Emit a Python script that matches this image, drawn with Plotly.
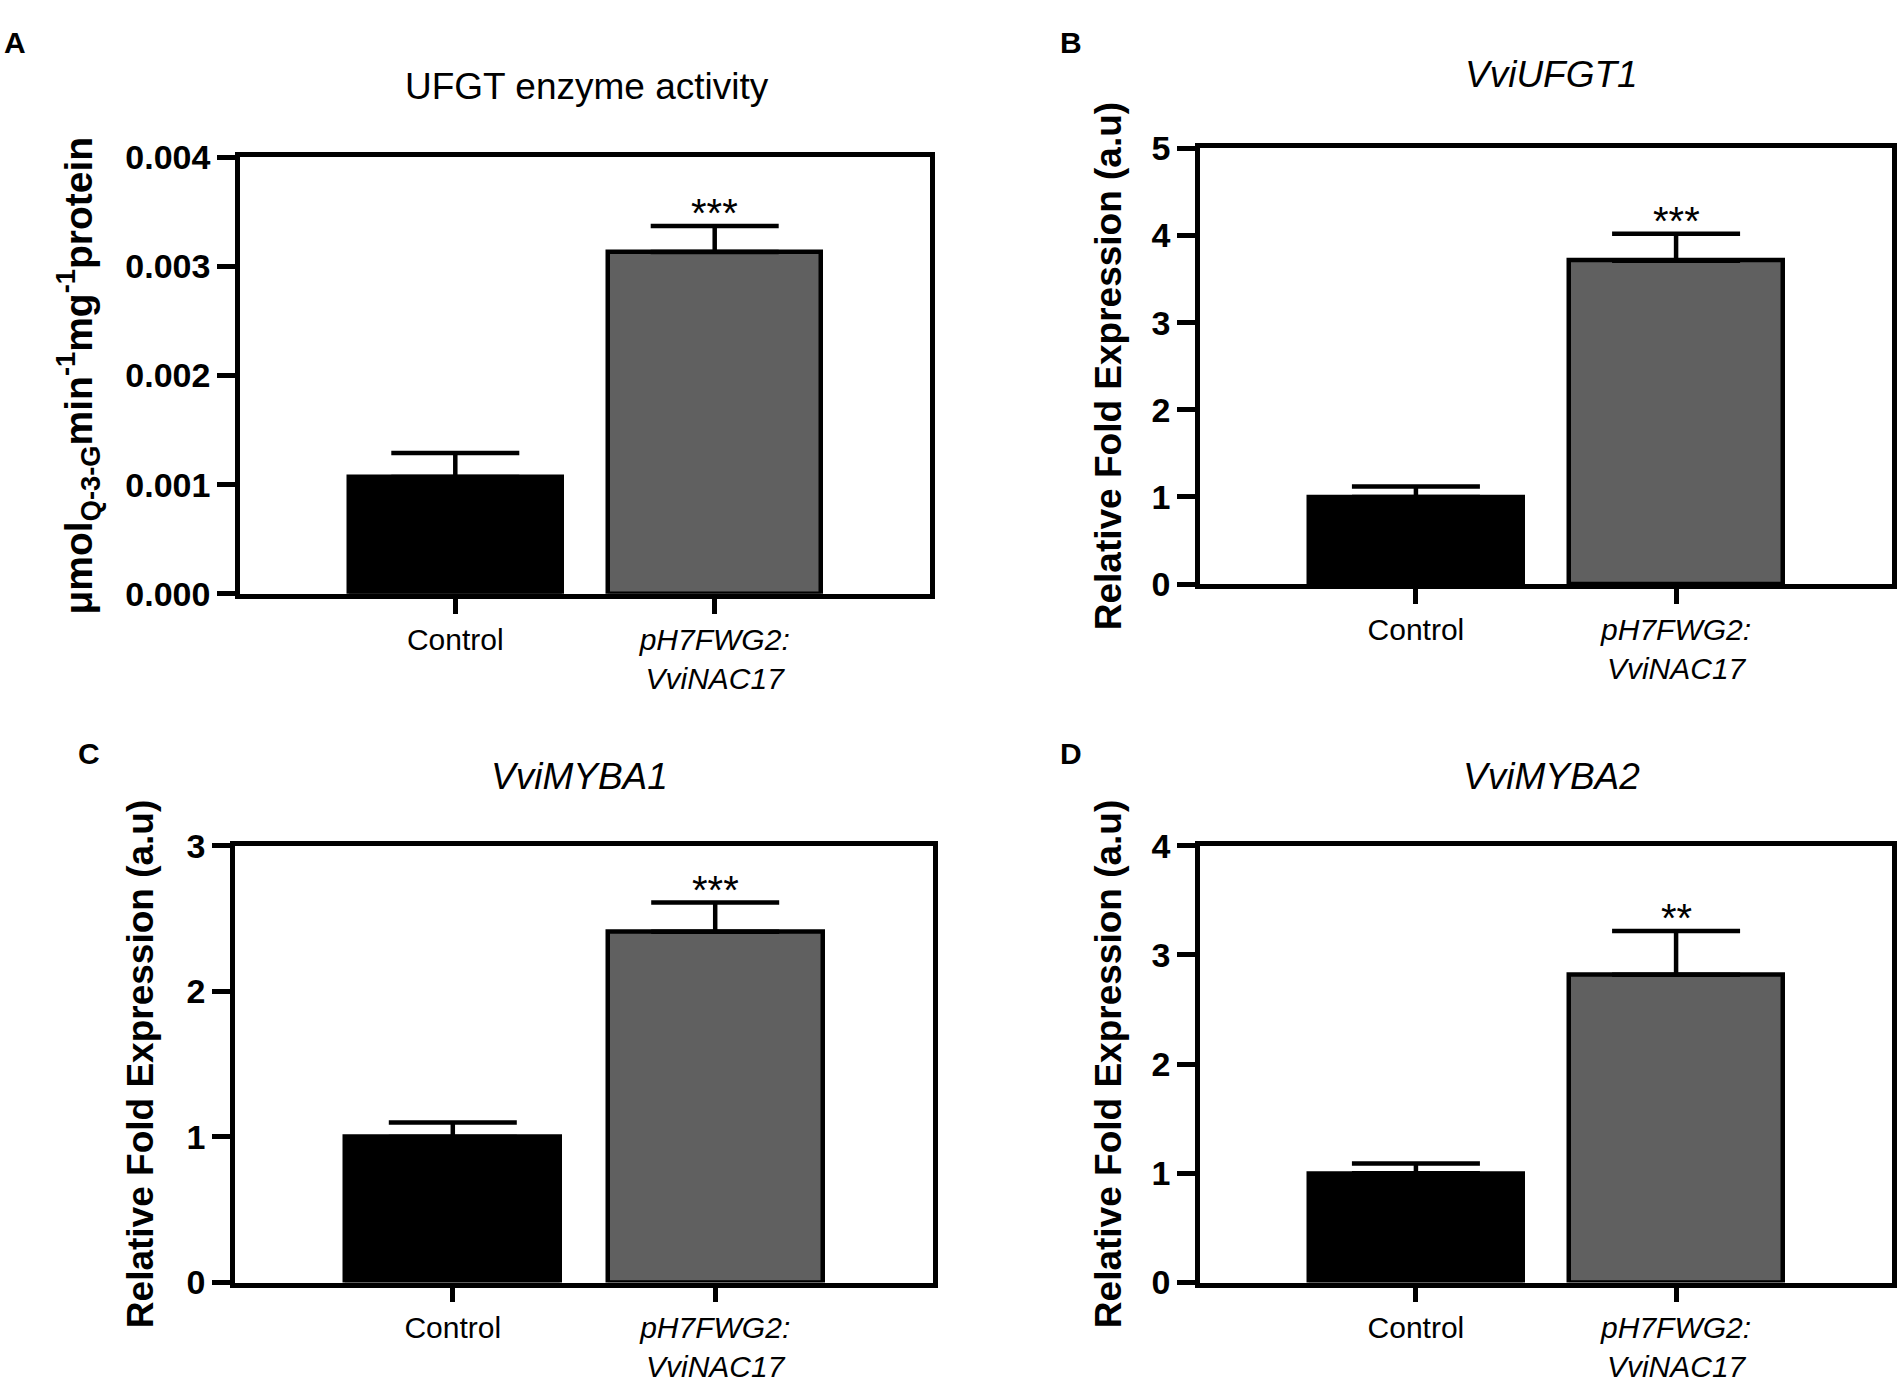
import plotly.graph_objects as go

# data
groups = ["Control", "<i>pH7FWG2:<br>VviNAC17</i>"]

ufgt_activity = [0.00107, 0.00313]
ufgt_activity_err = [0.00022, 0.00024]

vviufgt1 = [1.0, 3.71]
vviufgt1_err = [0.12, 0.31]

vvimyba1 = [1.0, 2.41]
vvimyba1_err = [0.10, 0.20]

vvimyba2 = [1.0, 2.82]
vvimyba2_err = [0.09, 0.40]

stars = ["***", "***", "***", "**"]
titles = ["UFGT enzyme activity", "<i>VviUFGT1</i>", "<i>VviMYBA1</i>", "<i>VviMYBA2</i>"]
letters = ["A", "B", "C", "D"]
ylabels = ["μmol<sub>Q-3-G</sub>min<sup>-1</sup>mg<sup>-1</sup>protein",
           "Relative Fold Expression (a.u)",
           "Relative Fold Expression (a.u)",
           "Relative Fold Expression (a.u)"]
ymax = [0.004, 5, 3, 4]
ystep = [0.001, 1, 1, 1]

values = [ufgt_activity, vviufgt1, vvimyba1, vvimyba2]
errors = [ufgt_activity_err, vviufgt1_err, vvimyba1_err, vvimyba2_err]

W, H = 1904, 1392
FONT = "Liberation Sans, Arial, sans-serif"
LW = 4.5

# panel boxes in pixels: left, right, top, bottom
boxes = [(240, 930, 142, 591), (1200, 1892, 133, 581),
         (235, 933, 850, 1299), (1200, 1892, 850, 1299)]
title_pos = [(587, 69), (1551, 57), (579, 779), (1551, 779)]
letter_pos = [(15, 24), (1071, 24), (89, 755), (1071, 755)]
ylabel_x = [79, 1108, 140, 1108]
ylabel_size = [39, 37, 37, 37]

fig = go.Figure()
anns = []
for i in range(4):
    n = "" if i == 0 else str(i + 1)
    l, r, t, b = boxes[i]
    fig.add_trace(go.Bar(
        x=groups, y=values[i], width=0.82,
        marker=dict(color=["#000000", "#606060"], line=dict(color="black", width=LW)),
        error_y=dict(type="data", array=errors[i], arrayminus=[0, 0], symmetric=False,
                     color="black", thickness=LW, width=64),
        xaxis="x" + n, yaxis="y" + n, showlegend=False))
    axis_common = dict(showline=True, linecolor="black", linewidth=LW, mirror=True,
                       ticks="outside", tickwidth=LW, tickcolor="black",
                       showgrid=False, zeroline=False)
    fig.update_layout(**{
        "xaxis" + n: dict(domain=[l / W, r / W], anchor="y" + n, type="category",
                          range=[-0.83, 1.83], ticklen=15,
                          tickfont=dict(family=FONT, size=30, color="black"),
                          **axis_common),
        "yaxis" + n: dict(domain=[1 - b / H, 1 - t / H], anchor="x" + n,
                          range=[0, ymax[i]], dtick=ystep[i], ticklen=18,
                          tickformat=".3f" if i == 0 else "d",
                          tickfont=dict(family=FONT, size=34, color="black", weight="bold"),
                          **axis_common),
    })
    anns.append(dict(x=groups[1], y=values[i][1] + errors[i][1], xref="x" + n, yref="y" + n,
                     text=stars[i], showarrow=False, yanchor="bottom", yshift=-11,
                     font=dict(family=FONT, size=40, color="black")))
    anns.append(dict(x=title_pos[i][0] / W, y=1 - title_pos[i][1] / H, xref="paper", yref="paper",
                     text=titles[i], showarrow=False, xanchor="center", yanchor="middle",
                     font=dict(family=FONT, size=37, color="black")))
    anns.append(dict(x=letter_pos[i][0] / W, y=1 - letter_pos[i][1] / H, xref="paper", yref="paper",
                     text="<b>" + letters[i] + "</b>", showarrow=False, xanchor="center", yanchor="middle",
                     font=dict(family=FONT, size=30, color="black")))
    anns.append(dict(x=ylabel_x[i] / W, y=1 - (t + b) / 2 / H, xref="paper", yref="paper",
                     text="<b>" + ylabels[i] + "</b>", showarrow=False, textangle=-90,
                     xanchor="center", yanchor="middle",
                     font=dict(family=FONT, size=ylabel_size[i], color="black")))

fig.update_layout(width=W, height=H, margin=dict(l=0, r=0, t=0, b=0),
                  plot_bgcolor="white", paper_bgcolor="white",
                  annotations=anns, bargap=0)
# no default page margin so the figure sits at the window's corner
fig.write_html("out.html", config={"displayModeBar": False},
               post_script="document.body.style.margin='0';")
